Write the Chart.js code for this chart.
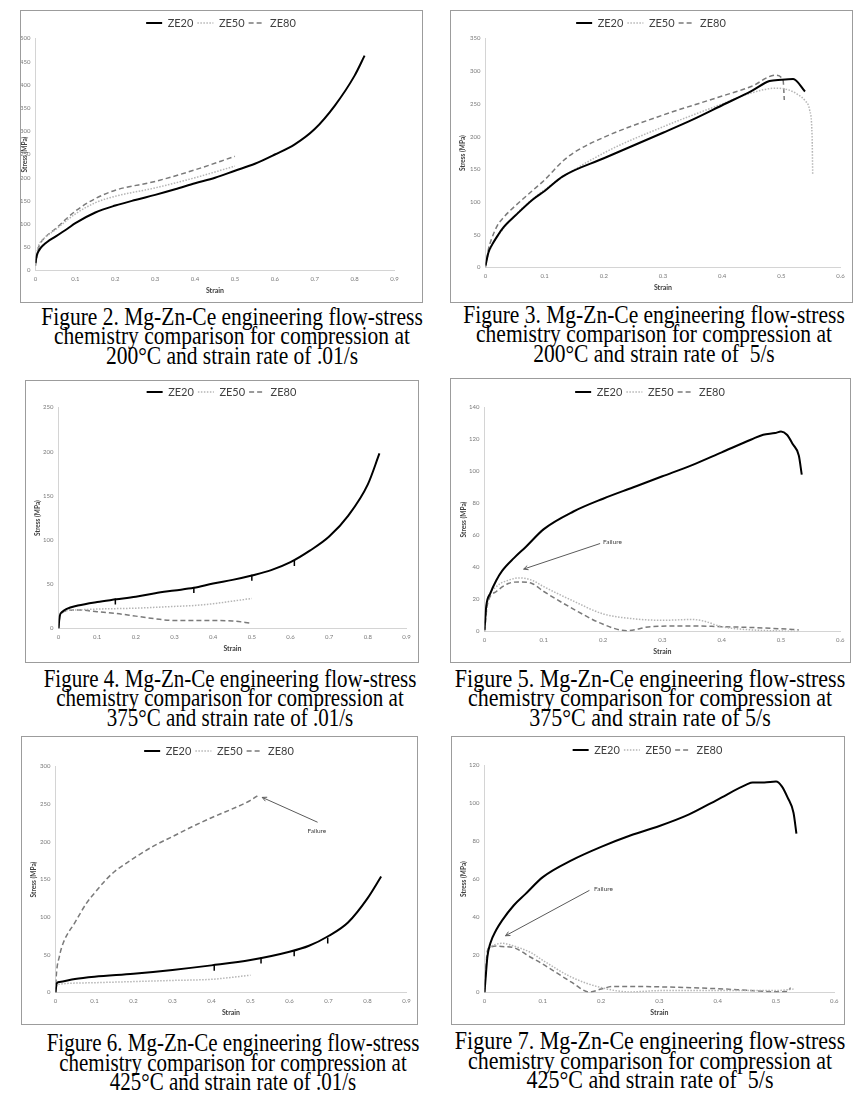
<!DOCTYPE html>
<html>
<head>
<meta charset="utf-8">
<script src="https://cdn.jsdelivr.net/npm/chart.js@4.4.1/dist/chart.umd.min.js"></script>
<style>
  body { margin: 0; background: #fff; width: 861px; height: 1104px; position: relative; overflow: hidden; }
  .frame { position: absolute; border: 1.5px solid #9c9c9c; box-sizing: border-box; background: #fff; }
  .frame .wrap { position: absolute; left: 0; top: 0; }
  .cap {
    position: absolute; width: 500px; text-align: center; color: #000;
    font-family: "Liberation Serif", "Times New Roman", serif; font-size: 25px; line-height: 19.4px;
    white-space: nowrap; transform-origin: 50% 0;
  }
</style>
</head>
<body>
<script>
"use strict";

// ---- Figure 2: 200°C, .01/s ----
const fig2StrainZE20 = [0, 0.003, 0.01, 0.02, 0.03, 0.05, 0.08, 0.1, 0.15, 0.2, 0.25, 0.3, 0.35, 0.4, 0.45, 0.5, 0.55, 0.6, 0.65, 0.7, 0.75, 0.8, 0.825];
const fig2StressZE20 = [16, 32, 45, 55, 62, 73, 90, 102, 125, 140, 152, 163, 175, 188, 200, 215, 230, 250, 272, 305, 355, 420, 463];
const fig2StrainZE50 = [0, 0.005, 0.01, 0.02, 0.05, 0.1, 0.15, 0.2, 0.3, 0.4, 0.5];
const fig2StressZE50 = [15, 45, 58, 68, 88, 122, 146, 160, 178, 200, 225];
const fig2StrainZE80 = [0, 0.005, 0.01, 0.02, 0.05, 0.1, 0.15, 0.2, 0.3, 0.4, 0.5];
const fig2StressZE80 = [10, 40, 55, 68, 90, 128, 155, 173, 192, 217, 246];

// ---- Figure 3: 200°C, 5/s ----
const fig3StrainZE20 = [0, 0.005, 0.01, 0.02, 0.03, 0.05, 0.08, 0.1, 0.13, 0.2, 0.3, 0.35, 0.4, 0.45, 0.48, 0.5, 0.52, 0.54];
const fig3StressZE20 = [3, 23, 33, 48, 61, 79, 104, 117, 139, 167, 206, 226, 248, 270, 285, 287, 288, 269];
const fig3StrainZE50 = [0, 0.005, 0.01, 0.02, 0.05, 0.1, 0.2, 0.3, 0.4, 0.45, 0.49, 0.51, 0.525, 0.54, 0.548, 0.552, 0.553];
const fig3StressZE50 = [2, 22, 32, 47, 80, 119, 175, 215, 250, 267, 274, 272, 266, 255, 240, 200, 143];
const fig3StrainZE80 = [0, 0.005, 0.01, 0.02, 0.03, 0.05, 0.08, 0.1, 0.13, 0.15, 0.2, 0.3, 0.4, 0.45, 0.49, 0.503, 0.505];
const fig3StressZE80 = [0, 28, 43, 64, 76, 94, 118, 134, 162, 176, 199, 233, 262, 277, 294, 286, 256];

// ---- Figure 4: 375°C, .01/s ----
const fig4StrainZE20 = [0, 0.003, 0.01, 0.02, 0.05, 0.1, 0.15, 0.2, 0.25, 0.3, 0.35, 0.4, 0.45, 0.5, 0.55, 0.6, 0.65, 0.7, 0.75, 0.8, 0.83];
const fig4StressZE20 = [0, 14, 19, 22, 26, 30, 33, 36, 40, 43, 46, 51, 55, 60, 66, 75, 88, 104, 128, 163, 198];
const fig4StrainZE50 = [0, 0.003, 0.01, 0.02, 0.05, 0.1, 0.2, 0.3, 0.35, 0.4, 0.45, 0.5];
const fig4StressZE50 = [0, 12, 18, 20, 21, 22, 23, 25, 26, 28, 31, 34];
const fig4StrainZE80 = [0, 0.003, 0.01, 0.02, 0.05, 0.1, 0.15, 0.2, 0.25, 0.3, 0.35, 0.4, 0.45, 0.5];
const fig4StressZE80 = [0, 12, 18, 20, 21, 19, 17, 14, 11, 9, 9, 9, 8.5, 6];
const fig4MarkStrain = [0.147, 0.35, 0.5, 0.61];   // little error ticks on ZE20
const fig4MarkStress = [30.5, 43.5, 57.5, 74];

// ---- Figure 5: 375°C, 5/s ----
const fig5StrainZE20 = [0, 0.003, 0.01, 0.02, 0.03, 0.05, 0.07, 0.1, 0.15, 0.2, 0.25, 0.3, 0.35, 0.4, 0.45, 0.47, 0.49, 0.5, 0.51, 0.52, 0.53, 0.535];
const fig5StressZE20 = [1, 16, 24, 32, 38, 46, 53, 64, 75, 83, 90, 97, 104, 112, 120, 123, 124, 125, 123, 117, 110, 98];
const fig5StrainZE50 = [0, 0.005, 0.02, 0.04, 0.06, 0.08, 0.1, 0.15, 0.2, 0.25, 0.3, 0.35, 0.37, 0.4, 0.45, 0.5, 0.53];
const fig5StressZE50 = [0, 18, 28, 32, 33.5, 32, 28, 19, 11, 8, 7, 7.5, 6.5, 3, 1, 0.3, 0];
const fig5StrainZE80 = [0, 0.005, 0.02, 0.04, 0.06, 0.08, 0.1, 0.15, 0.2, 0.24, 0.28, 0.35, 0.4, 0.45, 0.5, 0.53];
const fig5StressZE80 = [0, 17, 25, 30, 31, 30, 25, 14, 4.5, 0.5, 3, 3.5, 3, 2.5, 1.7, 1];
const fig5FailureText = [0.2, 56];
const fig5FailureArrow = [0.195, 55, 0.066, 39];

// ---- Figure 6: 425°C, .01/s ----
const fig6StrainZE20 = [0, 0.003, 0.01, 0.05, 0.1, 0.2, 0.3, 0.4, 0.5, 0.6, 0.65, 0.7, 0.75, 0.8, 0.835];
const fig6StressZE20 = [0, 12, 14, 18, 21, 25, 30, 36, 43, 54, 62, 75, 93, 125, 154];
const fig6StrainZE50 = [0, 0.003, 0.01, 0.1, 0.2, 0.3, 0.4, 0.45, 0.5];
const fig6StressZE50 = [0, 9, 11, 13, 14.5, 16, 17.5, 20, 23];
const fig6StrainZE80 = [0, 0.002, 0.01, 0.02, 0.05, 0.08, 0.1, 0.13, 0.15, 0.18, 0.2, 0.25, 0.3, 0.35, 0.4, 0.45, 0.5, 0.52];
const fig6StressZE80 = [0, 22, 48, 66, 93, 119, 132, 150, 160, 171, 178, 194, 207, 220, 232, 243, 255, 262];
const fig6MarkStrain = [0.407, 0.527, 0.612, 0.698];
const fig6MarkStress = [33, 42.5, 52, 69];
const fig6FailureText = [0.646, 214];
const fig6FailureArrow = [0.672, 226, 0.53, 259];

// ---- Figure 7: 425°C, 5/s ----
const fig7StrainZE20 = [0, 0.003, 0.005, 0.01, 0.02, 0.03, 0.05, 0.07, 0.1, 0.15, 0.2, 0.25, 0.3, 0.35, 0.4, 0.45, 0.46, 0.48, 0.5, 0.51, 0.52, 0.53, 0.535];
const fig7StressZE20 = [0, 12, 19, 26, 33, 38, 46, 52, 61, 70, 77, 83, 88, 94, 102, 110, 111, 111, 111.5, 109, 103, 95, 84];
const fig7StrainZE50 = [0, 0.005, 0.01, 0.02, 0.03, 0.05, 0.08, 0.1, 0.15, 0.2, 0.25, 0.3, 0.4, 0.5, 0.53];
const fig7StressZE50 = [0, 21, 24, 25.5, 26, 24.6, 21, 17, 8, 2.6, 0.3, 1, 1, 1, 1.8];
const fig7StrainZE80 = [0, 0.005, 0.01, 0.02, 0.03, 0.05, 0.08, 0.1, 0.15, 0.18, 0.2, 0.22, 0.3, 0.4, 0.45, 0.5, 0.52, 0.525];
const fig7StressZE80 = [0, 22, 24, 24.6, 24.3, 23.7, 18.5, 15, 5.3, 0.2, 1.8, 3.2, 3, 2, 1.2, 0.4, 0.5, 2.6];
const fig7FailureText = [0.188, 55];
const fig7FailureArrow = [0.18, 54, 0.036, 30];

const seriesNames = ["ZE20", "ZE50", "ZE80"];

const fig2Caption = ["Figure 2. Mg-Zn-Ce engineering flow-stress", "chemistry comparison for compression at", "200°C and strain rate of .01/s"];
const fig3Caption = ["Figure 3. Mg-Zn-Ce engineering flow-stress", "chemistry comparison for compression at", "200°C and strain rate of\u00a0 5/s"];
const fig4Caption = ["Figure 4. Mg-Zn-Ce engineering flow-stress", "chemistry comparison for compression at", "375°C and strain rate of .01/s"];
const fig5Caption = ["Figure 5. Mg-Zn-Ce engineering flow-stress", "chemistry comparison for compression at", "375°C and strain rate of 5/s"];
const fig6Caption = ["Figure 6. Mg-Zn-Ce engineering flow-stress", "chemistry comparison for compression at", "425°C and strain rate of .01/s"];
const fig7Caption = ["Figure 7. Mg-Zn-Ce engineering flow-stress", "chemistry comparison for compression at", "425°C and strain rate of\u00a0 5/s"];

// line looks, Excel-ish
const seriesStyle = {
  ZE20: { borderColor: "#000000", borderWidth: 2, borderDash: [] },
  ZE50: { borderColor: "#b5b5b5", borderWidth: 1.5, borderDash: [1.5, 1.5] },
  ZE80: { borderColor: "#7a7a7a", borderWidth: 1.5, borderDash: [5, 3] },
};

// page layout: frame box [left, top, w, h], plot edges [left, top, right, bottom], y-title centre x
const panels = [
  { box: [20, 10, 403, 293], plot: [36, 39, 395, 271], titleX: 24, xMax: 0.9, yMax: 500, yStep: 50,
    data: [[fig2StrainZE20, fig2StressZE20], [fig2StrainZE50, fig2StressZE50], [fig2StrainZE80, fig2StressZE80]],
    caption: fig2Caption, cap: [232, 325, 0.86] },
  { box: [450, 10, 403, 293], plot: [486, 39, 841, 268], titleX: 463, xMax: 0.6, yMax: 350, yStep: 50,
    data: [[fig3StrainZE20, fig3StressZE20], [fig3StrainZE50, fig3StressZE50], [fig3StrainZE80, fig3StressZE80]],
    caption: fig3Caption, cap: [654, 323, 0.86] },
  { box: [25, 380, 394, 283], plot: [59, 408, 407, 629], titleX: 38, xMax: 0.9, yMax: 250, yStep: 50,
    data: [[fig4StrainZE20, fig4StressZE20], [fig4StrainZE50, fig4StressZE50], [fig4StrainZE80, fig4StressZE80]],
    marks: [fig4MarkStrain, fig4MarkStress],
    caption: fig4Caption, cap: [230, 687, 0.84] },
  { box: [450, 378, 401, 285], plot: [485, 408, 841, 632], titleX: 464, xMax: 0.6, yMax: 140, yStep: 20,
    data: [[fig5StrainZE20, fig5StressZE20], [fig5StrainZE50, fig5StressZE50], [fig5StrainZE80, fig5StressZE80]],
    note: { text: fig5FailureText, arrow: fig5FailureArrow },
    caption: fig5Caption, cap: [650, 687, 0.88] },
  { box: [21, 736, 397, 289], plot: [56, 767, 407, 993], titleX: 34, xMax: 0.9, yMax: 300, yStep: 50,
    data: [[fig6StrainZE20, fig6StressZE20], [fig6StrainZE50, fig6StressZE50], [fig6StrainZE80, fig6StressZE80]],
    marks: [fig6MarkStrain, fig6MarkStress],
    note: { text: fig6FailureText, arrow: fig6FailureArrow },
    caption: fig6Caption, cap: [233, 1051.5, 0.84] },
  { box: [451, 736, 394, 289], plot: [485, 766, 841, 993], titleX: 464, xMax: 0.6, yMax: 120, yStep: 20,
    data: [[fig7StrainZE20, fig7StressZE20], [fig7StrainZE50, fig7StressZE50], [fig7StrainZE80, fig7StressZE80]],
    note: { text: fig7FailureText, arrow: fig7FailureArrow },
    caption: fig7Caption, cap: [650, 1049.5, 0.88] },
];

const BORDER = 1.5;
const LEGEND_FONT = 11;
const LEGEND_PAD = 4;
const LEGEND_H = LEGEND_FONT + LEGEND_PAD + 10; // what Chart.js gives a one-row legend
const X_AXIS_H = 24;
const Y_TITLE_HALF = 3.9;

// Excel centres the legend on the whole frame, not on the padded area
const centerLegend = {
  id: "centerLegend",
  afterLayout(chart) {
    const lg = chart.legend;
    if (!lg) return;
    lg.left = 0;
    lg.right = chart.width;
    lg.width = chart.width;
  },
};

// "Failure" label with an arrow, placed in data coordinates
const failureNote = {
  id: "failureNote",
  afterDatasetsDraw(chart, args, opts) {
    if (!opts || !opts.text) return;
    const { x, y } = chart.scales;
    const ctx = chart.ctx;
    const [ax, ay, bx, by] = opts.arrow;
    const x1 = x.getPixelForValue(ax), y1 = y.getPixelForValue(ay);
    const x2 = x.getPixelForValue(bx), y2 = y.getPixelForValue(by);
    ctx.save();
    ctx.strokeStyle = "#5a5a5a";
    ctx.lineWidth = 1;
    ctx.beginPath();
    ctx.moveTo(x1, y1);
    ctx.lineTo(x2, y2);
    const ang = Math.atan2(y1 - y2, x1 - x2);
    const head = 5;
    ctx.moveTo(x2 + head * Math.cos(ang + 0.45), y2 + head * Math.sin(ang + 0.45));
    ctx.lineTo(x2, y2);
    ctx.lineTo(x2 + head * Math.cos(ang - 0.45), y2 + head * Math.sin(ang - 0.45));
    ctx.stroke();
    ctx.fillStyle = "#404040";
    ctx.font = "6.5px Lato";
    ctx.textBaseline = "middle";
    ctx.fillText("Failure", x.getPixelForValue(opts.text[0]), y.getPixelForValue(opts.text[1]));
    ctx.restore();
  },
};

// legend lines keep the dataset's dash pattern
function legendLabels(chart) {
  return chart.data.datasets
    .map((ds, i) => ({ ds, i }))
    .filter(({ ds }) => !ds.noLegend)
    .map(({ ds, i }) => ({
      text: ds.label,
      datasetIndex: i,
      hidden: false,
      pointStyle: "line",
      strokeStyle: ds.borderColor,
      fillStyle: ds.borderColor,
      lineWidth: ds.borderWidth,
      lineDash: ds.borderDash,
      fontColor: "#404040",
    }));
}

function buildPanel(p) {
  const [bx, by, bw, bh] = p.box;
  const [pl, pt, pr, pb] = p.plot;
  const ox = bx + BORDER, oy = by + BORDER;
  const cw = bw - 2 * BORDER, ch = bh - 2 * BORDER;

  const padLeft = Math.max(0, p.titleX - ox - Y_TITLE_HALF);
  const yWidth = pl - ox - padLeft;
  const padTop = pt - oy - LEGEND_H;
  const padBottom = oy + ch - pb - X_AXIS_H;
  const padRight = ox + cw - pr;

  const frame = document.createElement("div");
  frame.className = "frame";
  Object.assign(frame.style, { left: bx + "px", top: by + "px", width: bw + "px", height: bh + "px" });
  const wrap = document.createElement("div");
  wrap.className = "wrap";
  Object.assign(wrap.style, { width: cw + "px", height: ch + "px" });
  const canvas = document.createElement("canvas");
  wrap.appendChild(canvas);
  frame.appendChild(wrap);
  document.body.appendChild(frame);

  const cap = document.createElement("div");
  cap.className = "cap";
  cap.innerHTML = p.caption.join("<br>");
  Object.assign(cap.style, {
    left: p.cap[0] - 250 + "px",
    top: p.cap[1] - 18.1 + "px",
    transform: "scaleX(" + p.cap[2] + ")",
  });
  document.body.appendChild(cap);

  const datasets = seriesNames.map((name, i) => ({
    label: name,
    data: p.data[i][0].map((s, k) => ({ x: s, y: p.data[i][1][k] })),
    ...seriesStyle[name],
    pointRadius: 0,
    fill: false,
    cubicInterpolationMode: "monotone",
  }));

  if (p.marks) {
    datasets.push({
      label: "ZE20 error",
      noLegend: true,
      data: p.marks[0].map((s, k) => ({ x: s, y: p.marks[1][k] })),
      showLine: false,
      pointStyle: "line",
      rotation: 90,
      pointRadius: 3,
      pointBorderWidth: 1.5,
      pointBorderColor: "#000",
      borderColor: "#000",
    });
  }

  new Chart(canvas, {
    type: "line",
    data: { datasets },
    plugins: [centerLegend, failureNote],
    options: {
      responsive: true,
      maintainAspectRatio: false,
      animation: false,
      events: [],
      layout: { padding: { top: padTop, left: padLeft, right: padRight, bottom: padBottom } },
      plugins: {
        tooltip: { enabled: false },
        legend: {
          position: "top",
          labels: {
            usePointStyle: true,
            pointStyleWidth: 16,
            padding: LEGEND_PAD,
            color: "#404040",
            font: { family: "Lato", size: LEGEND_FONT },
            generateLabels: legendLabels,
          },
        },
        failureNote: p.note || {},
      },
      scales: {
        x: {
          type: "linear",
          min: 0,
          max: p.xMax,
          grid: { display: false, drawTicks: false },
          border: { display: true, color: "#d4d4d4" },
          ticks: {
            stepSize: 0.1,
            padding: 4.5,
            color: "#7a7a7a",
            font: { family: "Lato", size: 6 },
            maxRotation: 0,
            callback: (v) => String(Math.round(v * 10) / 10),
          },
          title: { display: true, text: "Strain", color: "#404040", padding: 0, font: { family: "Lato", size: 7, weight: "bold" } },
          afterFit: (s) => { s.height = X_AXIS_H; },
        },
        y: {
          min: 0,
          max: p.yMax,
          grid: { display: false, drawTicks: false },
          border: { display: true, color: "#d4d4d4" },
          ticks: { stepSize: p.yStep, padding: 5, color: "#7a7a7a", font: { family: "Lato", size: 6 } },
          title: { display: true, text: "Stress (MPa)", color: "#404040", padding: 0, font: { family: "Lato", size: 6.5, weight: "bold" } },
          afterFit: (s) => { s.width = yWidth; },
        },
      },
    },
  });
}

panels.forEach(buildPanel);
</script>
</body>
</html>
